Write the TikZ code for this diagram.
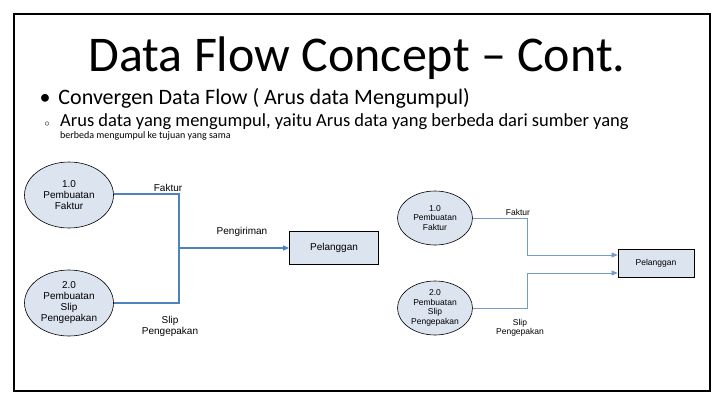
\documentclass[tikz,border=0pt]{standalone}
\usepackage{fontspec}
\setmainfont{Carlito}
\newfontfamily\arialf{Liberation Sans}
\usetikzlibrary{arrows.meta,shapes.geometric}
\definecolor{fl}{HTML}{4F81BD}
\definecolor{bubble}{HTML}{DCE4F0}
\tikzset{
 proc/.style={ellipse,draw=black,fill=bubble,line width=0.6pt,align=center,inner sep=0pt,font=\arialf\fontsize{10}{11}\selectfont},
 ent/.style={draw=black,fill=bubble,line width=0.8pt,font=\arialf\fontsize{10}{11}\selectfont},
 flow/.style={draw=fl,line width=1.2pt},
 lab/.style={font=\arialf\fontsize{10}{11}\selectfont,align=center},
 flowR/.style={draw=fl!80,line width=0.8pt},
 labR/.style={font=\arialf\fontsize{8.5}{9.5}\selectfont,align=center},
}
\begin{document}
\begin{tikzpicture}[x=1pt,y=-1pt]
\useasboundingbox (0,0) rectangle (720,405);
\fill[white] (0,0) rectangle (720,405);
\draw[line width=1.5pt] (14,14) rectangle (710,391);
\node (title) at (357,58) {\fontsize{50}{56}\selectfont Data Flow Concept -- Cont.};
\node[anchor=west] (b1) at (36,98) {\fontsize{22}{24}\selectfont\textbullet\hspace{8pt}Convergen Data Flow ( Arus data Mengumpul)};
\node[anchor=west] (b2m) at (41,124) {\fontsize{10}{12}\selectfont$\circ$};
\node[anchor=north west,align=left,inner sep=0pt] (b2) at (60,113) {\fontsize{18.5}{21}\selectfont Arus data yang mengumpul, yaitu Arus data yang berbeda dari sumber yang\\ berbeda mengumpul ke tujuan yang sama};
\node[proc,minimum width=89pt,minimum height=66pt] (p1) at (69,195) {1.0\\Pembuatan\\Faktur};
\node[proc,minimum width=89pt,minimum height=66pt] (p2) at (69,303) {2.0\\Pembuatan\\Slip\\Pengepakan};
\node[ent,minimum width=89pt,minimum height=33pt] (e1) at (334,248) {Pelanggan};
\coordinate (j1) at (179,194);
\coordinate (j2) at (179,303);
\coordinate (j3) at (179,248);
\draw[flow] (p1.east |- j1) -- (j1) -- (j2) -- (p2.east |- j2);
\draw[flow,-{Triangle[length=6pt,width=5pt]}] (j3) -- (e1.west);
\node[lab] (lf) at (168,188) {Faktur};
\node[lab] (lp) at (242,232) {Pengiriman};
\node[lab] (ls) at (170,326) {Slip\\Pengepakan};
\node[proc,minimum width=75pt,minimum height=54pt,font=\arialf\fontsize{8.5}{9.5}\selectfont] (q1) at (435,218) {1.0\\Pembuatan\\Faktur};
\node[proc,minimum width=75pt,minimum height=54pt,font=\arialf\fontsize{8.5}{9.5}\selectfont] (q2) at (435,308) {2.0\\Pembuatan\\Slip\\Pengepakan};
\node[ent,minimum width=76pt,minimum height=28pt,font=\arialf\fontsize{8.5}{9.5}\selectfont] (e2) at (656,263) {Pelanggan};
\coordinate (k1) at (527,218);
\coordinate (k2) at (527,255);
\coordinate (k3) at (527,308);
\coordinate (k4) at (527,273);
\draw[flowR,-{Triangle[length=6pt,width=5pt]}] (q1.east |- k1) -- (k1) -- (k2) -- (e2.west |- k2);
\draw[flowR,-{Triangle[length=6pt,width=5pt]}] (q2.east |- k3) -- (k3) -- (k4) -- (e2.west |- k4);
\node[labR] (rf) at (518,212) {Faktur};
\node[labR] (rs) at (520,328) {Slip\\Pengepakan};
\end{tikzpicture}
\end{document}
